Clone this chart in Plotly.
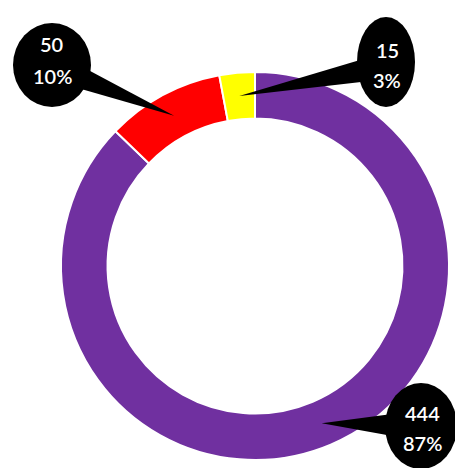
import math
import plotly.graph_objects as go

# ---- data ----
categories = ["A", "B", "C"]
values = [444, 50, 15]
colors = ["#7030A0", "#FF0000", "#FFFF00"]

W, H = 455, 468
cx, cy, R = 255, 266, 194
hole = 0.76

def px(x):
    return x / W

def py(y):
    return 1 - y / H

total = sum(values)
pct = [round(v / total * 100) for v in values]

fig = go.Figure(go.Pie(
    labels=categories, values=values, sort=False, direction="clockwise",
    rotation=0, hole=hole, textinfo="none", hoverinfo="label+value+percent",
    marker=dict(colors=colors, line=dict(color="white", width=2)),
    domain=dict(x=[px(cx - R), px(cx + R)], y=[py(cy + R), py(cy - R)]),
    showlegend=False,
))

callouts = [
    dict(ex=421, ey=426, rx=36, ry=43, t1=413, t2=443, tx=422),
    dict(ex=52, ey=65, rx=39, ry=42, t1=44, t2=76, tx=52),
    dict(ex=386, ey=62, rx=29, ry=45, t1=50, t2=80, tx=387),
]

shapes = []
annotations = []
cum = 0
rmid = R * (1 + hole) / 2
for v, p, c in zip(values, pct, callouts):
    mid = (cum + v / 2) / total * 2 * math.pi
    cum += v
    tipx = cx + rmid * math.sin(mid)
    tipy = cy - rmid * math.cos(mid)
    th = math.atan2(tipy - c["ey"], tipx - c["ex"])
    d = math.radians(16)
    b1 = (c["ex"] + c["rx"] * 0.9 * math.cos(th - d), c["ey"] + c["ry"] * 0.9 * math.sin(th - d))
    b2 = (c["ex"] + c["rx"] * 0.9 * math.cos(th + d), c["ey"] + c["ry"] * 0.9 * math.sin(th + d))
    path = "M {:.4f} {:.4f} L {:.4f} {:.4f} L {:.4f} {:.4f} Z".format(
        px(b1[0]), py(b1[1]), px(tipx), py(tipy), px(b2[0]), py(b2[1]))
    shapes.append(dict(type="path", xref="paper", yref="paper", path=path,
                       fillcolor="black", line=dict(color="black", width=0)))
    shapes.append(dict(type="circle", xref="paper", yref="paper",
                       x0=px(c["ex"] - c["rx"]), x1=px(c["ex"] + c["rx"]),
                       y0=py(c["ey"] + c["ry"]), y1=py(c["ey"] - c["ry"]),
                       fillcolor="black", line=dict(color="black", width=0)))
    for txt, ty in ((str(v), c["t1"]), (f"{p}%", c["t2"])):
        annotations.append(dict(x=px(c["tx"]), y=py(ty), xref="paper", yref="paper",
                                text=txt, showarrow=False, xanchor="center", yanchor="middle",
                                font=dict(family="Lato", size=20, color="white", weight=600)))

fig.update_layout(
    width=W, height=H, margin=dict(l=0, r=0, t=0, b=0),
    paper_bgcolor="white", plot_bgcolor="white",
    shapes=shapes, annotations=annotations,
)
fig.write_html("out.html", config={"displayModeBar": False},
               post_script="document.body.style.margin='0';document.body.style.overflow='hidden';")
